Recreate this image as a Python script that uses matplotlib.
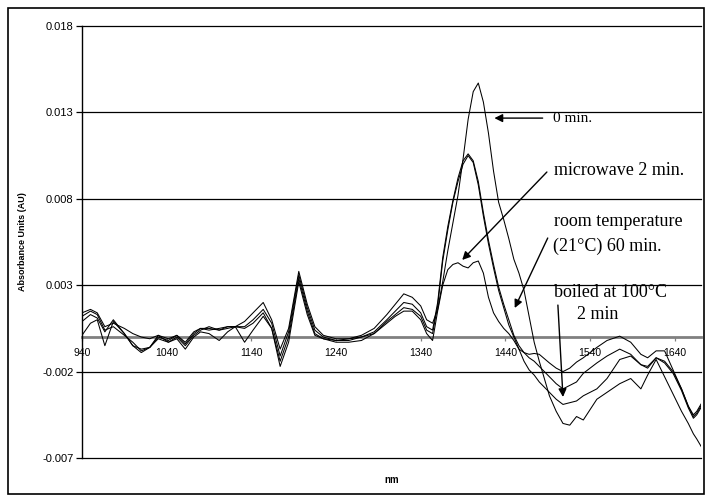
import numpy as np
import matplotlib
matplotlib.use("Agg")
import matplotlib.pyplot as plt
from matplotlib.patches import Rectangle

# wavelength (nm)
wavelengths = [940, 950, 958, 967, 977, 990, 1000, 1010, 1020, 1030, 1042, 1052, 1062, 1072,
               1080, 1090, 1102, 1112, 1121, 1132, 1142, 1154, 1164, 1174, 1184, 1196, 1206,
               1215, 1225, 1240, 1255, 1270, 1285, 1300, 1310, 1320, 1330, 1340, 1347, 1354,
               1360, 1366, 1372, 1378, 1384, 1390, 1396, 1402, 1408, 1414, 1420, 1426, 1432,
               1438, 1444, 1450, 1456, 1462, 1468, 1474, 1480, 1492, 1500, 1508, 1516, 1524,
               1532, 1540, 1548, 1560, 1575, 1588, 1600, 1608, 1618, 1628, 1638, 1648, 1656,
               1662, 1666, 1672]

# absorbance in mAU
abs_0min = [1.4, 1.6, 1.4, 0.6, 0.8, 0.5, 0.2, 0.0, -0.1, 0.1, -0.1, 0.1, -0.4, 0.2,
            0.5, 0.4, 0.5, 0.6, 0.6, 0.9, 1.4, 2.0, 1.0, -0.7, 0.5, 3.8, 1.9,
            0.6, 0.1, -0.1, -0.1, 0.1, 0.5, 1.3, 1.9, 2.5, 2.3, 1.8, 1.0, 0.8,
            1.6, 3.2, 5.0, 6.6, 8.2, 10.3, 12.6, 14.2, 14.7, 13.6, 11.8, 9.6, 7.8,
            6.8, 5.7, 4.5, 3.7, 2.7, 1.2, -0.3, -1.4, -3.4, -4.3, -5.0, -5.1, -4.6,
            -4.8, -4.2, -3.6, -3.2, -2.7, -2.4, -3.0, -2.2, -1.3, -2.3, -3.3, -4.3, -5.0,
            -5.6, -5.9, -6.4]

abs_room = [1.2, 1.5, 1.3, 0.4, 0.6, 0.1, -0.3, -0.8, -0.6, -0.1, -0.3, 0.0, -0.5, 0.1,
            0.4, 0.6, 0.4, 0.5, 0.6, 0.6, 1.0, 1.6, 0.8, -1.1, 0.3, 3.6, 1.7,
            0.4, 0.0, -0.2, -0.2, 0.0, 0.3, 1.0, 1.5, 2.0, 1.9, 1.4, 0.6, 0.4,
            2.0, 4.6, 6.4, 7.9, 9.2, 10.2, 10.6, 10.2, 9.0, 7.2, 5.6, 4.2, 2.9,
            1.9, 1.0, 0.1, -0.5, -0.9, -1.2, -1.4, -1.7, -2.3, -2.7, -3.0, -2.8, -2.6,
            -2.1, -1.8, -1.5, -1.1, -0.7, -1.0, -1.6, -1.8, -1.2, -1.4, -2.0, -3.0, -4.0,
            -4.6, -4.4, -3.9]

abs_boiled = [0.9, 1.3, 1.1, 0.3, 1.0, 0.2, -0.5, -0.7, -0.6, 0.0, -0.2, 0.1, -0.3, 0.3,
              0.5, 0.5, 0.4, 0.6, 0.6, 0.5, 0.8, 1.4, 0.5, -1.4, 0.0, 3.4, 1.5,
              0.2, -0.1, -0.2, -0.1, 0.0, 0.2, 0.9, 1.3, 1.7, 1.6, 1.2, 0.4, 0.2,
              1.8, 4.4, 6.2, 7.8, 9.0, 10.0, 10.5, 10.1, 8.8, 7.0, 5.4, 4.0, 2.7,
              1.7, 0.7, 0.0, -0.7, -1.4, -1.9, -2.2, -2.6, -3.2, -3.6, -3.9, -3.8, -3.7,
              -3.4, -3.2, -3.0, -2.4, -1.3, -1.1, -1.6, -1.7, -1.2, -1.5, -2.1, -3.1, -4.1,
              -4.7, -4.5, -4.0]

abs_microwave = [0.1, 0.8, 1.0, -0.5, 0.9, 0.2, -0.5, -0.9, -0.6, 0.1, -0.3, -0.1, -0.7, 0.0,
                 0.3, 0.2, -0.2, 0.3, 0.6, -0.3, 0.4, 1.2, 0.5, -1.7, -0.3, 3.2, 1.3,
                 0.1, -0.1, -0.3, -0.3, -0.2, 0.2, 0.8, 1.2, 1.5, 1.5, 1.0, 0.2, -0.2,
                 1.5, 3.0, 3.9, 4.2, 4.3, 4.1, 4.0, 4.3, 4.4, 3.7, 2.3, 1.4, 0.9,
                 0.5, 0.2, -0.2, -0.7, -0.9, -1.0, -0.95, -1.0, -1.5, -1.8, -2.0, -1.8, -1.45,
                 -1.2, -0.9, -0.6, -0.2, 0.05, -0.3, -1.0, -1.2, -0.8, -0.8, -1.9, -3.0, -4.0,
                 -4.5, -4.3, -3.8]

yticks = [-0.007, -0.002, 0.003, 0.008, 0.013, 0.018]
ytick_labels = ["-0.007", "-0.002", "0.003", "0.008", "0.013", "0.018"]
xticks = [940, 1040, 1140, 1240, 1340, 1440, 1540, 1640]

W, H = 705, 495
fig = plt.figure(figsize=(W / 100, H / 100), dpi=100)
ax = fig.add_axes([82 / W, 1 - 458 / H, (701 - 82) / W, (458 - 26) / H])

x = np.array(wavelengths)
for s in (abs_0min, abs_room, abs_boiled, abs_microwave):
    ax.plot(x, np.array(s) / 1000.0, color="black", lw=0.75, zorder=3)

ax.set_xlim(940, 1671)
ax.set_ylim(-0.007, 0.018)
ax.set_yticks(yticks)
ax.set_yticklabels(ytick_labels)
ax.set_xticks(xticks)
ax.set_xticklabels([str(t) for t in xticks])

ax.yaxis.grid(True, color="black", lw=0.9)
for gl in ax.yaxis.get_gridlines():
    gl.set_clip_on(False)
ax.set_axisbelow(True)
for side in ("top", "right"):
    ax.spines[side].set_visible(False)
ax.spines["left"].set_color("black")
ax.spines["left"].set_linewidth(1.0)
ax.spines["bottom"].set_position(("data", 0))
ax.spines["bottom"].set_color("#808080")
ax.spines["bottom"].set_linewidth(2.0)
ax.spines["bottom"].set_zorder(2)

ax.tick_params(axis="y", direction="out", length=4, width=0.9, pad=2,
               labelsize=8, labelfontfamily="Liberation Sans")
ax.tick_params(axis="x", direction="out", length=3, width=0.9, color="#808080", pad=5,
               labelsize=7.5, labelfontfamily="Liberation Sans")

ax.set_xlabel("nm", fontsize=7, fontweight="bold", family="Liberation Sans")
ax.xaxis.set_label_coords(0.5, -0.04)
ax.set_ylabel("Absorbance Units (AU)", fontsize=6.5, fontweight="bold", family="Liberation Sans")
ax.yaxis.set_label_coords(-0.089, 0.5)

serif = "Liberation Serif"
arrow = dict(arrowstyle="-|>", color="black", lw=1.0, mutation_scale=12, shrinkA=0, shrinkB=0)

ax.text(1496, 0.01267, "0 min.", fontsize=11, family=serif, va="center", ha="left")
ax.annotate("", xy=(1427, 0.01267), xytext=(1484, 0.01267), arrowprops=arrow)

ax.text(1497, 0.00966, "microwave 2 min.", fontsize=13, family=serif, va="center", ha="left")
ax.annotate("", xy=(1389, 0.00446), xytext=(1489, 0.00955), arrowprops=arrow)

ax.text(1497, 0.00666, "room temperature", fontsize=13, family=serif, va="center", ha="left")
ax.text(1496, 0.00527, "(21°C) 60 min.", fontsize=13, family=serif, va="center", ha="left")
ax.annotate("", xy=(1451, 0.00168), xytext=(1490, 0.00573), arrowprops=arrow)

ax.text(1497, 0.0026, "boiled at 100°C", fontsize=13, family=serif, va="center", ha="left")
ax.text(1525, 0.00133, "2 min", fontsize=13, family=serif, va="center", ha="left")
ax.annotate("", xy=(1508, -0.00347), xytext=(1502, 0.00185), arrowprops=arrow)

fig.patches.append(Rectangle((7.5 / W, 1 - 494 / H), 696.5 / W, 486 / H,
                             transform=fig.transFigure, fill=False, edgecolor="black",
                             lw=1.2))

fig.savefig("out.png", dpi=100)
